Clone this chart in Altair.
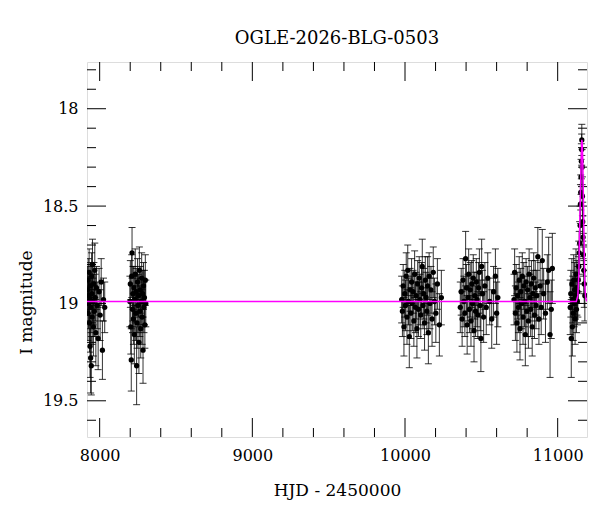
import altair as alt
import pandas as pd

# ---- photometry (HJD-2450000, I mag, error) ----
s1_hjd = [7921, 7923, 7925, 7927, 7929, 7931, 7933, 7935, 7937, 7939, 7941, 7943, 7945, 7947, 7949, 7951, 7953, 7956, 7959, 7962, 7965, 7968, 7971, 7975, 7979, 7984, 7990, 7996, 8003, 8010, 8018, 8025, 8033]
s1_mag = [18.93, 19.05, 18.88, 19.00, 18.96, 18.84, 19.10, 18.98, 19.22, 18.91, 19.28, 19.02, 19.32, 18.86, 18.95, 19.07, 18.80, 18.99, 19.12, 18.90, 19.04, 18.83, 18.97, 19.15, 18.92, 19.01, 19.18, 18.94, 19.06, 18.89, 19.24, 18.98, 19.02]
s1_err = [0.12, 0.14, 0.11, 0.13, 0.10, 0.12, 0.15, 0.11, 0.16, 0.12, 0.18, 0.13, 0.15, 0.12, 0.10, 0.14, 0.13, 0.12, 0.15, 0.11, 0.13, 0.14, 0.12, 0.17, 0.11, 0.12, 0.16, 0.12, 0.13, 0.12, 0.15, 0.11, 0.13]

s2_hjd = [8198, 8201, 8204, 8207, 8210, 8212, 8215, 8218, 8221, 8224, 8227, 8230, 8233, 8236, 8239, 8242, 8245, 8248, 8251, 8254, 8257, 8260, 8263, 8266, 8269, 8272, 8275, 8278, 8281, 8284, 8287, 8290, 8293, 8296, 8299, 8302]
s2_mag = [18.99, 18.90, 19.12, 19.29, 18.86, 18.74, 19.03, 18.95, 19.08, 18.92, 19.16, 18.98, 18.85, 19.05, 18.94, 19.32, 19.10, 18.89, 19.01, 18.96, 19.20, 18.83, 19.04, 18.93, 19.13, 18.99, 18.87, 19.07, 18.95, 19.24, 18.91, 19.02, 18.97, 19.11, 18.88, 19.00]
s2_err = [0.13, 0.12, 0.14, 0.16, 0.11, 0.13, 0.12, 0.14, 0.13, 0.11, 0.15, 0.12, 0.13, 0.14, 0.12, 0.20, 0.13, 0.12, 0.14, 0.11, 0.16, 0.12, 0.13, 0.12, 0.15, 0.12, 0.13, 0.14, 0.12, 0.17, 0.12, 0.13, 0.14, 0.12, 0.13, 0.12]

s3_hjd = [9978, 9983, 9988, 9993, 9998, 10003, 10008, 10013, 10018, 10023, 10028, 10033, 10038, 10043, 10048, 10053, 10058, 10063, 10068, 10073, 10078, 10083, 10088, 10093, 10098, 10103, 10108, 10113, 10118, 10123, 10128, 10133, 10138, 10143, 10148, 10153, 10158, 10163, 10170, 10177, 10185, 10193, 10202, 10212, 10225, 10238]
s3_mag = [18.98, 19.04, 18.91, 19.12, 18.95, 19.01, 18.86, 19.07, 18.83, 18.99, 19.17, 18.93, 19.05, 18.89, 19.00, 18.94, 19.09, 18.85, 19.02, 18.96, 19.13, 18.90, 19.03, 18.87, 18.98, 19.06, 18.92, 18.81, 19.01, 18.95, 19.10, 18.88, 18.97, 19.04, 18.91, 19.15, 18.86, 19.00, 18.93, 19.08, 18.84, 18.99, 19.05, 18.90, 19.11, 18.97]
s3_err = [0.12, 0.13, 0.11, 0.15, 0.12, 0.13, 0.12, 0.14, 0.13, 0.12, 0.16, 0.11, 0.13, 0.12, 0.14, 0.11, 0.13, 0.12, 0.13, 0.12, 0.15, 0.12, 0.14, 0.11, 0.13, 0.12, 0.13, 0.14, 0.12, 0.13, 0.14, 0.12, 0.13, 0.12, 0.15, 0.16, 0.12, 0.13, 0.12, 0.14, 0.13, 0.12, 0.15, 0.13, 0.16, 0.14]

s4_hjd = [10362, 10368, 10374, 10380, 10386, 10392, 10397, 10402, 10407, 10412, 10417, 10422, 10427, 10432, 10437, 10442, 10447, 10452, 10457, 10462, 10467, 10472, 10477, 10482, 10487, 10492, 10497, 10502, 10508, 10515, 10523, 10532, 10542, 10555, 10568, 10580, 10592, 10600, 10608]
s4_mag = [19.02, 18.94, 19.08, 18.88, 18.99, 19.05, 18.77, 18.92, 19.11, 18.97, 18.85, 19.03, 18.93, 19.09, 18.90, 19.00, 18.87, 19.14, 18.96, 19.04, 18.89, 18.98, 19.06, 18.92, 18.84, 19.01, 19.18, 18.81, 18.95, 19.07, 18.91, 19.02, 18.87, 18.99, 19.08, 18.94, 18.86, 19.05, 18.97]
s4_err = [0.13, 0.12, 0.14, 0.11, 0.13, 0.12, 0.14, 0.12, 0.15, 0.12, 0.13, 0.12, 0.14, 0.13, 0.12, 0.13, 0.12, 0.16, 0.12, 0.13, 0.12, 0.14, 0.12, 0.13, 0.12, 0.13, 0.17, 0.14, 0.12, 0.13, 0.12, 0.14, 0.13, 0.12, 0.15, 0.13, 0.14, 0.16, 0.15]

s5_hjd = [10714, 10718, 10723, 10728, 10733, 10738, 10743, 10748, 10753, 10758, 10763, 10768, 10773, 10778, 10783, 10788, 10793, 10798, 10803, 10808, 10813, 10818, 10823, 10828, 10833, 10838, 10843, 10848, 10853, 10858, 10863, 10870, 10877, 10885, 10892, 10899, 10908, 10920, 10932, 10941, 10950, 10958, 10965]
s5_mag = [18.98, 18.84, 19.05, 18.92, 19.10, 18.96, 19.02, 18.88, 19.13, 18.94, 19.00, 18.86, 19.07, 18.91, 18.99, 19.16, 18.89, 19.04, 18.93, 19.09, 18.85, 18.97, 19.03, 18.90, 19.12, 18.95, 18.87, 19.06, 18.92, 19.01, 18.96, 18.76, 19.08, 18.91, 19.02, 18.78, 18.95, 19.05, 18.89, 18.83, 19.16, 19.03, 18.82]
s5_err = [0.13, 0.12, 0.14, 0.12, 0.15, 0.12, 0.13, 0.12, 0.16, 0.12, 0.13, 0.12, 0.14, 0.12, 0.13, 0.16, 0.12, 0.13, 0.12, 0.14, 0.13, 0.12, 0.14, 0.12, 0.15, 0.12, 0.13, 0.12, 0.14, 0.12, 0.13, 0.15, 0.13, 0.12, 0.14, 0.16, 0.13, 0.15, 0.14, 0.17, 0.22, 0.15, 0.18]

s6_hjd = [11082, 11086, 11089, 11093, 11096, 11099, 11102, 11105, 11108, 11111, 11114, 11117, 11120, 11123, 11126, 11129, 11132, 11135, 11138, 11141, 11144, 11147, 11149, 11151, 11153, 11155, 11157, 11158, 11160, 11162, 11164, 11166, 11168, 11171, 11174, 11178]
s6_mag = [19.02, 18.95, 19.18, 18.90, 19.12, 18.98, 19.05, 18.88, 19.00, 18.93, 19.08, 18.96, 18.85, 19.03, 18.92, 18.99, 18.94, 18.88, 18.81, 18.74, 18.69, 18.60, 18.49, 18.43, 18.35, 18.27, 18.21, 18.16, 18.30, 18.45, 18.58, 18.66, 18.75, 18.83, 18.90, 18.96]
s6_err = [0.14, 0.12, 0.20, 0.13, 0.15, 0.12, 0.14, 0.13, 0.12, 0.14, 0.13, 0.12, 0.13, 0.12, 0.14, 0.12, 0.13, 0.12, 0.13, 0.11, 0.11, 0.10, 0.10, 0.09, 0.09, 0.09, 0.08, 0.08, 0.09, 0.10, 0.10, 0.11, 0.11, 0.12, 0.12, 0.13]

# ---- model curve ----
model_hjd = [7917, 11122, 11132, 11139, 11143, 11148, 11154, 11158, 11160, 11162, 11165, 11172, 11178, 11183, 11192]
model_mag = [18.99, 18.99, 18.96, 18.84, 18.64, 18.47, 18.26, 18.16, 18.17, 18.20, 18.30, 18.64, 18.91, 18.97, 18.99]

# ---- axis ticks ----
x_major = [8000, 9000, 10000, 11000]
x_minor = [8200, 8400, 8600, 8800, 9200, 9400, 9600, 9800, 10200, 10400, 10600, 10800]
y_major = [18, 18.5, 19, 19.5]
y_minor = [17.8, 17.9, 18.1, 18.2, 18.3, 18.4, 18.6, 18.7, 18.8, 18.9, 19.1, 19.2, 19.3, 19.4, 19.6]

X_DOMAIN = [7917, 11192]
Y_DOMAIN = [17.76, 19.686]
W, H = 500, 375
MAJ, MIN = 19, 9
FONT = "DejaVu Serif"

hjd = s1_hjd + s2_hjd + s3_hjd + s4_hjd + s5_hjd + s6_hjd
mag = s1_mag + s2_mag + s3_mag + s4_mag + s5_mag + s6_mag
err = s1_err + s2_err + s3_err + s4_err + s5_err + s6_err
df = pd.DataFrame({"hjd": hjd, "mag": mag, "err": err})
df["lo"] = df["mag"] - df["err"]
df["hi"] = df["mag"] + df["err"]
model = pd.DataFrame({"hjd": model_hjd, "mag": model_mag})

xs = alt.Scale(domain=X_DOMAIN, nice=False, zero=False)
ys = alt.Scale(domain=Y_DOMAIN, nice=False, zero=False, reverse=True)
xaxis = alt.Axis(values=x_major, format="d", ticks=False, tickSize=0, domain=False, grid=False,
                 labelPadding=10, titlePadding=19, labelFont=FONT, titleFont=FONT,
                 labelFontSize=16, titleFontSize=17, titleFontWeight="normal",
                 labelColor="black", titleColor="black", title="HJD - 2450000")
yaxis = alt.Axis(values=y_major, format="~g", ticks=False, tickSize=0, domain=False, grid=False,
                 labelPadding=9, titlePadding=7, titleY=240, labelFont=FONT, titleFont=FONT,
                 labelFontSize=16, titleFontSize=17, titleFontWeight="normal",
                 labelColor="black", titleColor="black", title="I magnitude")


def X(f):
    return alt.X(f, type="quantitative", scale=xs, axis=xaxis)


def Y(f):
    return alt.Y(f, type="quantitative", scale=ys, axis=yaxis)


bars = alt.Chart(df).mark_rule(color="black", strokeWidth=1, opacity=0.8, clip=True).encode(
    x=X("hjd"), y=Y("lo"), y2="hi")
cap_lo = alt.Chart(df).mark_tick(color="black", thickness=1, size=7, orient="horizontal",
                                 opacity=0.8, clip=True).encode(x=X("hjd"), y=Y("lo"))
cap_hi = alt.Chart(df).mark_tick(color="black", thickness=1, size=7, orient="horizontal",
                                 opacity=0.8, clip=True).encode(x=X("hjd"), y=Y("hi"))
pts = alt.Chart(df).mark_circle(color="black", size=28, opacity=1, clip=True).encode(
    x=X("hjd"), y=Y("mag"))
line = alt.Chart(model).mark_line(color="#FF00FF", strokeWidth=1.5, clip=True).encode(
    x=X("hjd"), y=Y("mag"))

def xticks(vals, L):
    d = pd.DataFrame({"v": vals})
    b = alt.Chart(d).mark_rule(color="black", strokeWidth=1).encode(
        x=X("v"), y=alt.value(H), y2=alt.value(H - L))
    t = alt.Chart(d).mark_rule(color="black", strokeWidth=1).encode(
        x=X("v"), y=alt.value(0), y2=alt.value(L))
    return [b, t]

def yticks(vals, L):
    d = pd.DataFrame({"v": vals})
    l = alt.Chart(d).mark_rule(color="black", strokeWidth=1).encode(
        y=Y("v"), x=alt.value(0), x2=alt.value(L))
    r = alt.Chart(d).mark_rule(color="black", strokeWidth=1).encode(
        y=Y("v"), x=alt.value(W), x2=alt.value(W - L))
    return [l, r]

layers = (xticks(x_major, MAJ) + xticks(x_minor, MIN) + yticks(y_major, MAJ) + yticks(y_minor, MIN)
          + [bars, cap_lo, cap_hi, pts, line])

chart = alt.layer(*layers).properties(
    width=W, height=H,
    title=alt.TitleParams("OGLE-2026-BLG-0503", font=FONT, fontSize=18, fontWeight="normal",
                          color="black", anchor="middle", offset=14),
    autosize=alt.AutoSizeParams(type="none"),
    padding={"left": 87, "top": 62, "right": 13, "bottom": 75},
).configure_view(stroke="black", strokeWidth=1.5).configure(background="white")

chart.save("out.html", embed_options={"renderer": "svg", "actions": False})
